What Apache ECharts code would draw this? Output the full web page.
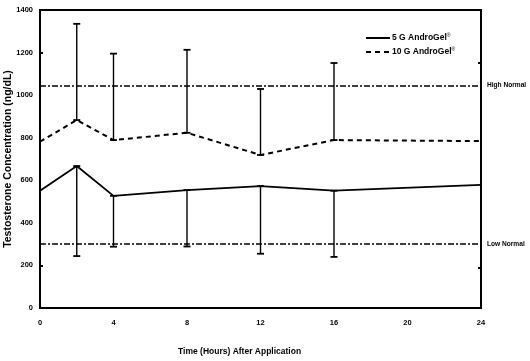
<!DOCTYPE html>
<html><head><meta charset="utf-8">
<script src="https://cdn.jsdelivr.net/npm/echarts@6/dist/echarts.min.js"></script>
<style>html,body{margin:0;padding:0;background:#fff}#c{width:530px;height:361px}</style>
</head><body><div id="c"></div>
<script>
var hours = [0, 2, 4, 8, 12, 16, 24];
var gel5 = [551, 667, 527, 554, 573, 551, 578];
var gel10 = [781, 883, 789, 823, 719, 789, 784];
var errHours = [2, 4, 8, 12, 16];
var upper10 = [1335, 1195, 1213, 1029, 1151];
var lower5 = [244, 288, 289, 255, 240];
var highNormal = 1045;
var lowNormal = 300;
var xTicks = [0, 4, 8, 12, 16, 20, 24];
var yTicks = [0, 200, 400, 600, 800, 1000, 1200, 1400];
var seriesNames = ['5 G AndroGel', '10 G AndroGel'];

var narrow = '"Liberation Sans Narrow","Arial Narrow","Liberation Sans",Arial,sans-serif';
var sans = '"Liberation Sans",Arial,sans-serif';

function pairs(xs, ys) { return xs.map(function (x, i) { return [x, ys[i]]; }); }
var errData = [];
errHours.forEach(function (h, i) {
  var idx = hours.indexOf(h);
  errData.push([h, gel10[idx], upper10[i]]);
  errData.push([h, lower5[i], gel5[idx]]);
});

var chart = echarts.init(document.getElementById('c'), null, {renderer: 'canvas'});
var refLineStyle = {color: '#000', width: 1.6, type: [6, 2, 2, 2]};
var refLabel = {color: '#000', fontFamily: sans, fontWeight: 'bold', fontSize: 6.6, distance: 6};

function legendItem(y, name, dash) {
  return [{
    type: 'line', shape: {x1: 366, y1: y, x2: 390, y2: y},
    style: {stroke: '#000', lineWidth: 2, lineDash: dash}
  }, {
    type: 'text', left: 392, top: y - 5,
    style: {
      text: '{a|' + name + '}{s|®}',
      rich: {a: {font: 'bold 8.5px ' + sans, fill: '#000'},
             s: {font: '5px ' + sans, fill: '#000', verticalAlign: 'top', padding: [0, 0, 4, 0]}}
    }
  }];
}

chart.setOption({
  animation: false,
  grid: {left: 40, right: 49, top: 10, bottom: 53, show: true, borderColor: '#000', borderWidth: 2,
         containLabel: false, outerBoundsMode: 'none'},
  xAxis: {
    type: 'value', min: 0, max: 24, interval: 4,
    axisLine: {show: true, lineStyle: {color: '#000', width: 2}},
    axisTick: {show: false}, splitLine: {show: false},
    axisLabel: {color: '#000', fontFamily: narrow, fontWeight: 'bold', fontSize: 7.5, margin: 11,
      formatter: function (v) { return xTicks.indexOf(v) >= 0 ? String(v) : ''; }}
  },
  yAxis: [{
    type: 'value', min: 0, max: 1400, interval: 200,
    axisLine: {show: true, lineStyle: {color: '#000', width: 2}},
    axisTick: {show: true, inside: true, length: 3, customValues: [200, 1200], lineStyle: {color: '#000', width: 2}},
    splitLine: {show: false},
    axisLabel: {color: '#000', fontFamily: narrow, fontWeight: 'bold', fontSize: 7.5, margin: 7,
      formatter: function (v) { return yTicks.indexOf(v) >= 0 ? String(v) : ''; }}
  }, {
    type: 'value', min: 0, max: 1400, position: 'right',
    axisLine: {show: true, lineStyle: {color: '#000', width: 2}},
    axisTick: {show: true, inside: true, length: 3, customValues: [190, 1150], lineStyle: {color: '#000', width: 2}},
    axisLabel: {show: false}, splitLine: {show: false}
  }],
  series: [{
    name: seriesNames[0], type: 'line', data: pairs(hours, gel5), symbol: 'none',
    lineStyle: {color: '#000', width: 1.8}, itemStyle: {color: '#000'}, z: 3
  }, {
    name: seriesNames[1], type: 'line', data: pairs(hours, gel10), symbol: 'none',
    lineStyle: {color: '#000', width: 2, type: [5, 4]}, itemStyle: {color: '#000'}, z: 3,
    markLine: {
      silent: true, symbol: 'none',
      data: [
        {yAxis: highNormal, name: 'High Normal', lineStyle: refLineStyle,
          label: Object.assign({position: 'end', formatter: 'High Normal'}, refLabel)},
        {yAxis: lowNormal, name: 'Low Normal', lineStyle: refLineStyle,
          label: Object.assign({position: 'end', formatter: 'Low Normal'}, refLabel)}
      ]
    }
  }, {
    type: 'custom', data: errData, z: 4,
    renderItem: function (params, api) {
      var x = api.value(0);
      var p1 = api.coord([x, api.value(1)]);
      var p2 = api.coord([x, api.value(2)]);
      var w = 3.5;
      return {type: 'group', children: [
        {type: 'line', shape: {x1: p1[0], y1: p1[1], x2: p2[0], y2: p2[1]}, style: {stroke: '#000', lineWidth: 1.4}},
        {type: 'line', shape: {x1: p1[0] - w, y1: p1[1], x2: p1[0] + w, y2: p1[1]}, style: {stroke: '#000', lineWidth: 1.8}},
        {type: 'line', shape: {x1: p2[0] - w, y1: p2[1], x2: p2[0] + w, y2: p2[1]}, style: {stroke: '#000', lineWidth: 1.8}}
      ]};
    }
  }],
  graphic: [].concat(
    legendItem(38, seriesNames[0], null),
    legendItem(52, seriesNames[1], [5, 4]),
    [{
      type: 'text', left: 178, top: 347,
      style: {text: 'Time (Hours) After Application', fill: '#000', font: 'bold 8.5px ' + sans}
    }, {
      type: 'text', x: 8, y: 159, rotation: Math.PI / 2,
      style: {text: 'Testosterone Concentration (ng/dL)', fill: '#000', font: 'bold 10.5px ' + sans,
              align: 'center', verticalAlign: 'middle'}
    }]
  )
});
</script></body></html>
